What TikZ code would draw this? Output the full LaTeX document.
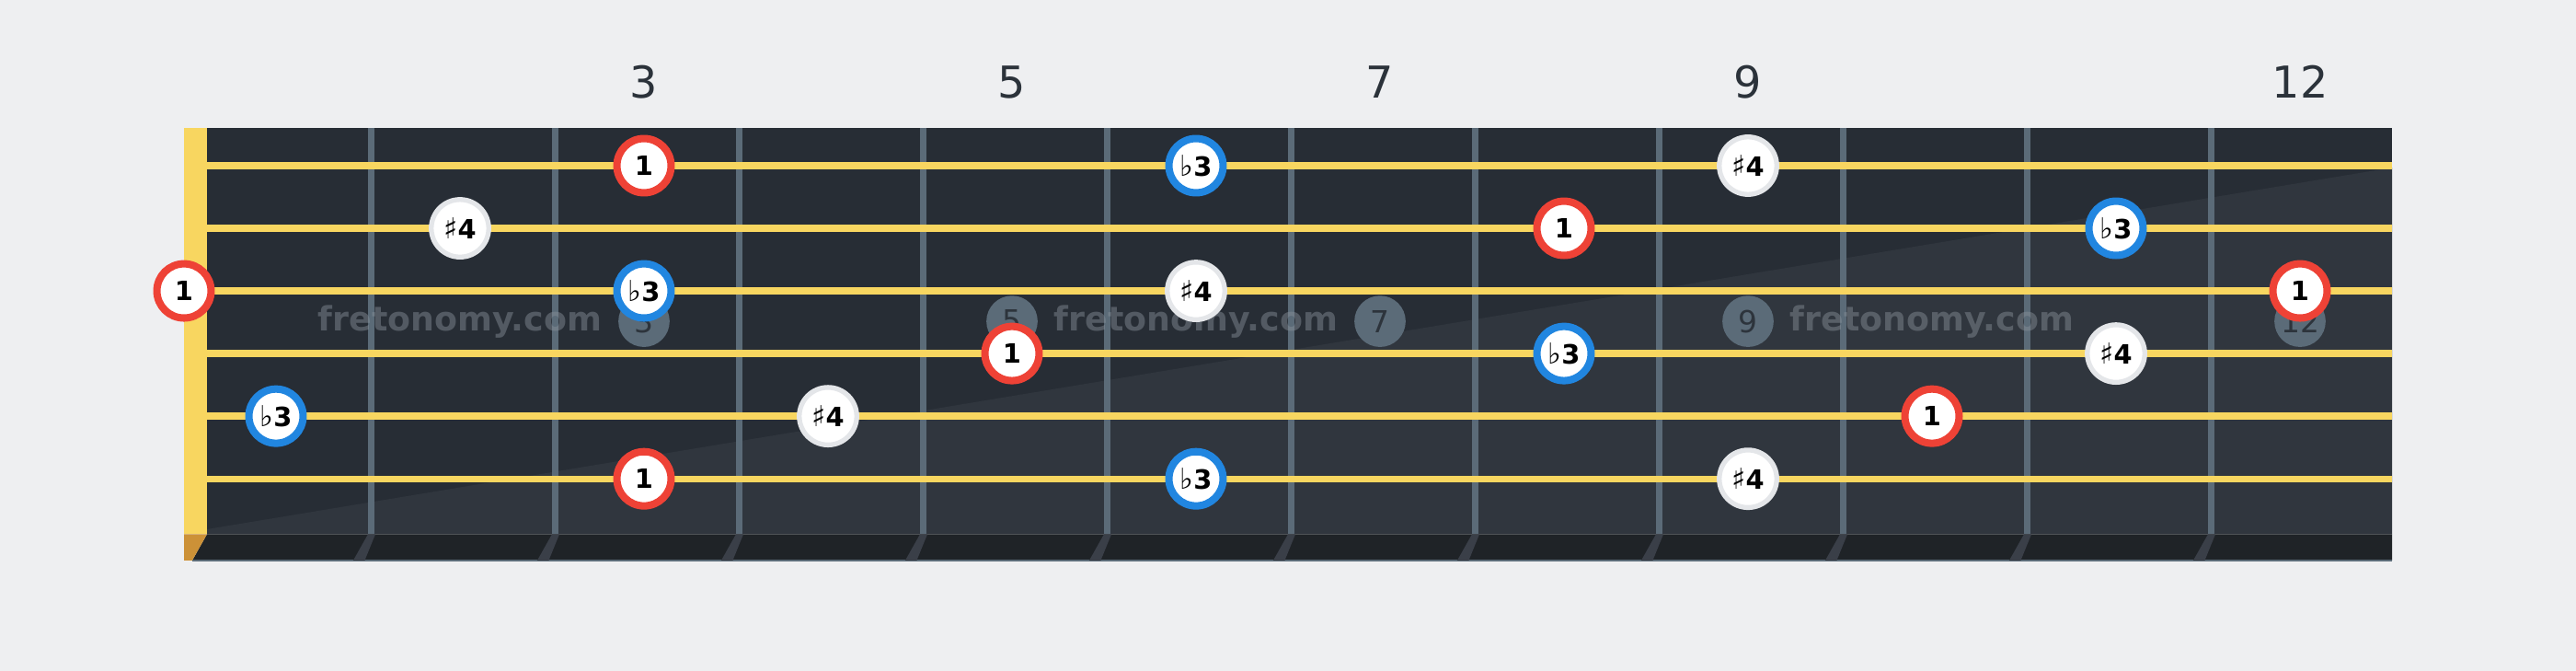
\documentclass[tikz,border=0pt]{standalone}
\usepackage{fontspec}
\setmainfont{DejaVu Sans}
\definecolor{paper}{HTML}{EEEFF1}
\definecolor{board}{HTML}{272D35}
\definecolor{boardlight}{HTML}{30363E}
\definecolor{edge}{HTML}{1F2327}
\definecolor{slant}{HTML}{3A3F48}
\definecolor{fretgray}{HTML}{5B6B78}
\definecolor{wire}{HTML}{F8D660}
\definecolor{nutbrown}{HTML}{CC9137}
\definecolor{rootred}{HTML}{EE4236}
\definecolor{thirdblue}{HTML}{2186E0}
\definecolor{ringgray}{HTML}{E4E6E9}
\definecolor{marktext}{HTML}{2D343C}
\definecolor{labeltext}{HTML}{2B323A}
\definecolor{stampgray}{HTML}{8A929B}
\newcommand{\mflat}{{\mdseries\fontsize{10}{10}\selectfont ♭}}
\newcommand{\msharp}{{\mdseries\fontsize{10}{10}\selectfont ♯}}
\begin{document}
\begin{tikzpicture}[x=0.02cm, y=-0.02cm,
  note/.style={circle, fill=white, inner sep=0pt, minimum size=0.66cm, line width=2.56pt,
    font=\fontsize{9.2}{10}\selectfont\bfseries},
  root/.style={note, draw=rootred},
  third/.style={note, draw=thirdblue},
  fourth/.style={note, draw=ringgray, line width=1.7pt, minimum size=0.70cm},
  marker/.style={circle, fill=fretgray, inner sep=0pt, minimum size=0.624cm, text=marktext,
    font=\fontsize{10.5}{11}\selectfont},
  fretnum/.style={text=labeltext, font=\fontsize{15.2}{16}\selectfont},
  stamp/.style={text=stampgray, opacity=0.45, font=\fontsize{11.6}{12}\selectfont\bfseries}]
  \fill[paper] (0,0) rectangle (1568,408);
  \useasboundingbox (0,0) rectangle (1568,408);
  % fretboard
  \fill[board] (126,78) rectangle (1456,325);
  \fill[boardlight] (126,322) -- (1456,102) -- (1456,325) -- (126,325) -- cycle;
  \fill[edge] (126,325) -- (1456,325) -- (1456,341) -- (117,341) -- cycle;
  \draw[fretgray, line width=0.5pt] (117,341) -- (1456,341);
  \fill[wire] (112,78) rectangle (126,325);
  \fill[nutbrown] (112,325) -- (126,325) -- (117,341) -- (112,341) -- cycle;
  \foreach \k in {1,...,11} {
    \draw[fretgray, line width=2.45pt] ({114+112*\k},78) -- ({114+112*\k},325);
    \fill[slant] ({112+112*\k},325) -- ({116.5+112*\k},325) -- ({110+112*\k},341) -- ({103+112*\k},341) -- cycle;
  }
  % inlays
  \node[marker] (m3) at (392,195.5) {3};
  \node[marker] (m5) at (616,195.5) {5};
  \node[marker] (m7) at (840,195.5) {7};
  \node[marker] (m9) at (1064,195.5) {9};
  \node[marker] (m12) at (1400,195.5) {12};
  \node[stamp] (w1) at (280,196) {fretonomy.com};
  \node[stamp] (w2) at (728,196) {fretonomy.com};
  \node[stamp] (w3) at (1176,196) {fretonomy.com};
  % strings
  \foreach \s in {1,...,6}
    \draw[wire, line width=2.33pt] (126,{62.7+38.1*\s}) -- (1456,{62.7+38.1*\s});
  % fret numbers
  \node[fretnum] (n3) at (392,50) {3};
  \node[fretnum] (n5) at (616,50) {5};
  \node[fretnum] (n7) at (840,50) {7};
  \node[fretnum] (n9) at (1064,50) {9};
  \node[fretnum] (n12) at (1400,50) {12};
  % notes
  \node[root] (a1) at (392,100.8) {1};
  \node[third] (a2) at (728,100.8) {\mflat3};
  \node[fourth] (a3) at (1064,100.8) {\msharp4};
  \node[fourth] (b1) at (280,138.9) {\msharp4};
  \node[root] (b2) at (952,138.9) {1};
  \node[third] (b3) at (1288,138.9) {\mflat3};
  \node[root] (c1) at (112,177) {1};
  \node[third] (c2) at (392,177) {\mflat3};
  \node[fourth] (c3) at (728,177) {\msharp4};
  \node[root] (c4) at (1400,177) {1};
  \node[root] (d1) at (616,215.1) {1};
  \node[third] (d2) at (952,215.1) {\mflat3};
  \node[fourth] (d3) at (1288,215.1) {\msharp4};
  \node[third] (e1) at (168,253.2) {\mflat3};
  \node[fourth] (e2) at (504,253.2) {\msharp4};
  \node[root] (e3) at (1176,253.2) {1};
  \node[root] (f1) at (392,291.3) {1};
  \node[third] (f2) at (728,291.3) {\mflat3};
  \node[fourth] (f3) at (1064,291.3) {\msharp4};
\end{tikzpicture}
\end{document}
